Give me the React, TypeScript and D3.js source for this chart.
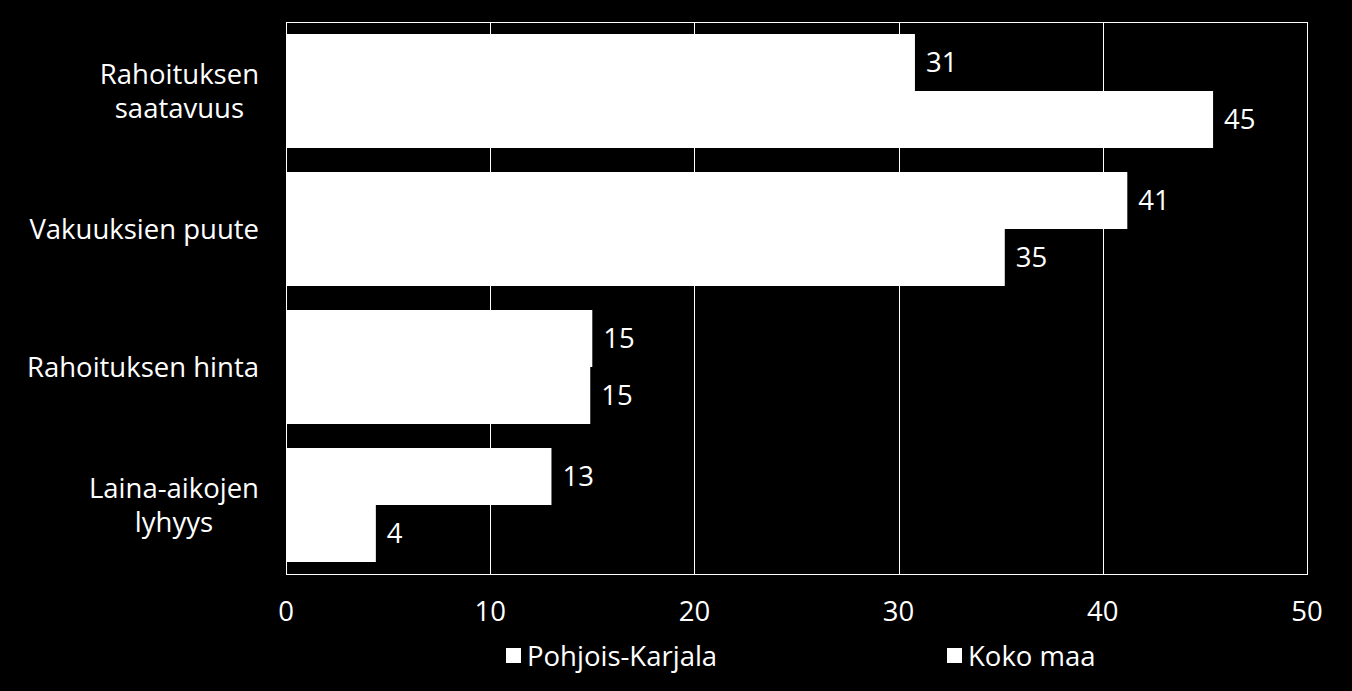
import React, { useEffect, useRef } from "react";
import * as d3 from "d3";

const categories = [
	["Rahoituksen", "saatavuus"],
	["Vakuuksien puute"],
	["Rahoituksen hinta"],
	["Laina-aikojen", "lyhyys"],
];
const seriesNames = ["Pohjois-Karjala", "Koko maa"];
const pohjoisKarjala = [30.8, 41.2, 15.0, 13.0];
const kokoMaa = [45.4, 35.2, 14.9, 4.4];
const xTicks = [0, 10, 20, 30, 40, 50];

const W = 1352;
const H = 691;
const FONT = "'Open Sans', sans-serif";
const FS = "27.5px";

const App: React.FC = () => {
	const svgRef = useRef<SVGSVGElement | null>(null);

	useEffect(() => {
		document.body.style.margin = "0";
		document.body.style.background = "#000";

		const svg = d3.select(svgRef.current);
		svg.selectAll("*").remove();

		const margin = { left: 286, right: 45, top: 22, bottom: 117 };
		const innerW = W - margin.left - margin.right;
		const innerH = H - margin.top - margin.bottom;

		svg.append("rect").attr("width", W).attr("height", H).attr("fill", "#000");

		const x = d3.scaleLinear().domain([0, 50]).range([0, innerW]);
		const y = d3
			.scaleBand<number>()
			.domain(d3.range(categories.length))
			.range([0, innerH])
			.paddingInner(0.174)
			.paddingOuter(0.087);
		const ySub = d3
			.scaleBand<number>()
			.domain([0, 1])
			.range([0, y.bandwidth()]);

		const g = svg
			.append("g")
			.attr("transform", `translate(${margin.left},${margin.top})`);

		// grid
		g.selectAll(".grid")
			.data(xTicks.slice(1, -1))
			.enter()
			.append("line")
			.attr("x1", (d) => Math.round(x(d)) + 0.5)
			.attr("x2", (d) => Math.round(x(d)) + 0.5)
			.attr("y1", 0)
			.attr("y2", innerH)
			.attr("stroke", "#fff")
			.attr("stroke-width", 1);

		const rows = categories.map((c, i) => ({
			i,
			values: [pohjoisKarjala[i], kokoMaa[i]],
		}));

		const row = g
			.selectAll(".row")
			.data(rows)
			.enter()
			.append("g")
			.attr("transform", (d) => `translate(0,${y(d.i)})`);

		row.selectAll("rect")
			.data((d) => d.values)
			.enter()
			.append("rect")
			.attr("x", 0)
			.attr("y", (_d, j) => ySub(j)!)
			.attr("width", (d) => x(d))
			.attr("height", ySub.bandwidth())
			.attr("fill", "#fff");

		row.selectAll("text")
			.data((d) => d.values)
			.enter()
			.append("text")
			.attr("x", (d) => x(d) + 11)
			.attr("y", (_d, j) => ySub(j)! + ySub.bandwidth() / 2)
			.attr("dy", "0.35em")
			.attr("fill", "#fff")
			.style("font-family", FONT)
			.style("font-size", FS)
			.text((d) => d3.format(".0f")(d));

		// frame
		g.append("rect")
			.attr("x", 0.5)
			.attr("y", 0.5)
			.attr("width", innerW)
			.attr("height", innerH)
			.attr("fill", "none")
			.attr("stroke", "#fff")
			.attr("stroke-width", 1);

		// x tick labels
		g.selectAll(".xt")
			.data(xTicks)
			.enter()
			.append("text")
			.attr("x", (d) => x(d))
			.attr("y", innerH + 37)
			.attr("dy", "0.35em")
			.attr("text-anchor", "middle")
			.attr("fill", "#fff")
			.style("font-family", FONT)
			.style("font-size", FS)
			.text((d) => d);

		// category labels
		const lineH = 34;
		categories.forEach((lines, i) => {
			const cy = y(i)! + y.bandwidth() / 2;
			const t = g
				.append("text")
				.attr("fill", "#fff")
				.attr("text-anchor", "middle")
				.style("font-family", FONT)
				.style("font-size", FS);
			const spans = lines.map((l, k) =>
				t
					.append("tspan")
					.attr("y", cy + (k - (lines.length - 1) / 2) * lineH)
					.attr("dy", "0.35em")
					.text(l)
			);
			const maxW = d3.max(spans, (s) => (s.node() as SVGTSpanElement).getComputedTextLength()) || 0;
			spans.forEach((s) => s.attr("x", -27 - maxW / 2));
		});

		// legend
		const legendX = [506, 947];
		seriesNames.forEach((name, k) => {
			const lg = svg.append("g").attr("transform", `translate(${legendX[k]},656)`);
			lg.append("rect").attr("x", 0).attr("y", -8).attr("width", 15).attr("height", 15).attr("fill", "#fff");
			lg.append("text")
				.attr("x", 21)
				.attr("dy", "0.35em")
				.attr("fill", "#fff")
				.style("font-family", FONT)
				.style("font-size", FS)
				.text(name);
		});
	}, []);

	return <svg ref={svgRef} width={W} height={H} style={{ display: "block" }} />;
};

export default App;
